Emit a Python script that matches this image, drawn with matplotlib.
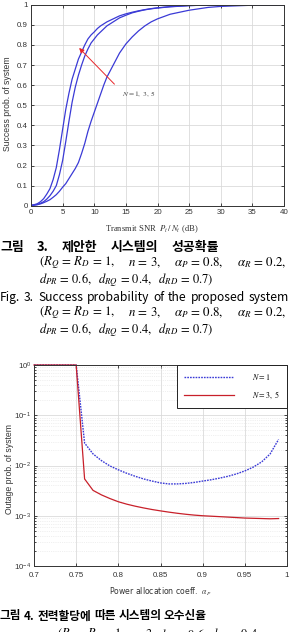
import matplotlib
matplotlib.use("Agg")
import matplotlib.pyplot as plt
from matplotlib.ticker import LogLocator, NullFormatter
import numpy as np

plt.rcParams['mathtext.fontset'] = 'stix'

# Fig. 3 data: success probability vs transmit SNR (dB)
snr = [0, 0.5, 1, 1.5, 2, 2.5, 3, 3.5, 4, 4.5, 5, 5.5, 6, 6.5, 7, 7.5, 8, 8.5,
       9, 9.5, 10, 10.5, 11, 11.5, 12, 13, 14, 15, 16, 17, 18, 19, 20,
       22, 25, 28, 30, 35, 40]
succ_a = [0.002, 0.005, 0.01, 0.02, 0.035, 0.058, 0.085, 0.13, 0.19, 0.28,
          0.38, 0.48, 0.56, 0.63, 0.68, 0.73, 0.765, 0.8, 0.83, 0.85, 0.865,
          0.882, 0.895, 0.905, 0.915, 0.93, 0.945, 0.955, 0.963, 0.97, 0.976,
          0.981, 0.985, 0.991, 0.996, 0.999, 1.0, 1.0, 1.0]
succ_b = [0.001, 0.003, 0.006, 0.012, 0.02, 0.033, 0.05, 0.072, 0.1, 0.155,
          0.225, 0.32, 0.42, 0.515, 0.59, 0.65, 0.7, 0.745, 0.78, 0.81, 0.83,
          0.85, 0.865, 0.88, 0.895, 0.915, 0.935, 0.948, 0.96, 0.968, 0.975,
          0.98, 0.984, 0.99, 0.996, 0.999, 1.0, 1.0, 1.0]
succ_c = [0.001, 0.003, 0.005, 0.009, 0.015, 0.022, 0.03, 0.042, 0.055, 0.072,
          0.092, 0.11, 0.135, 0.16, 0.185, 0.215, 0.26, 0.31, 0.37, 0.42,
          0.465, 0.51, 0.555, 0.6, 0.64, 0.7, 0.76, 0.805, 0.84, 0.87, 0.895,
          0.915, 0.93, 0.953, 0.973, 0.987, 0.992, 0.998, 1.0]

# Fig. 4 data: outage probability vs power allocation coefficient
alpha = [0.70, 0.71, 0.72, 0.73, 0.74, 0.75, 0.76, 0.77, 0.78, 0.79, 0.80,
         0.81, 0.82, 0.83, 0.84, 0.85, 0.86, 0.87, 0.88, 0.89, 0.90, 0.91,
         0.92, 0.93, 0.94, 0.95, 0.96, 0.97, 0.98, 0.99]
out_n1 = [1, 1, 1, 1, 1, 1, 0.028, 0.017, 0.0125, 0.0098, 0.0082, 0.007,
          0.0061, 0.0054, 0.0049, 0.0045, 0.0043, 0.0043, 0.0044, 0.0046,
          0.0049, 0.0052, 0.0056, 0.0061, 0.0068, 0.0078, 0.0093, 0.0118,
          0.017, 0.033]
out_n35 = [1, 1, 1, 1, 1, 1, 0.0054, 0.0032, 0.0026, 0.0022, 0.0019, 0.0017,
           0.00155, 0.00143, 0.00133, 0.00125, 0.00118, 0.00112, 0.00107,
           0.00103, 0.001, 0.00098, 0.00096, 0.00094, 0.00092, 0.0009,
           0.00089, 0.00088, 0.00087, 0.00088]

W, H = 290, 632


def box(x0, y0, x1, y1):
    return [x0 / W, 1 - y1 / H, (x1 - x0) / W, (y1 - y0) / H]


def ftext(x, y, s, **kw):
    return fig.text(x / W, 1 - y / H, s, **kw)


def spread(x0, x1, y, words, **kw):
    # justified caption line: words placed left to right, gaps shared out
    r = fig.canvas.get_renderer()
    texts = [ftext(0, y, w, va='center', **kw) for w in words]
    widths = [t.get_window_extent(r).width for t in texts]
    gap = (x1 - x0 - sum(widths)) / (len(words) - 1)
    x = x0
    for t, w in zip(texts, widths):
        t.set_x(x / W)
        x += w + gap


fig = plt.figure(figsize=(W / 100, H / 100), dpi=100)
tick_font = dict(family='Liberation Sans', size=5.7, color='#333333')
grid_col = '#dadada'

# ---- top chart
ax1 = fig.add_axes(box(31, 4.8, 284, 205.7))
for y in (succ_a, succ_b, succ_c):
    ax1.plot(snr, y, color='#3a3ad6', lw=0.9)
ax1.set_xlim(0, 40)
ax1.set_ylim(0, 1)
ax1.set_xticks(np.arange(0, 41, 5))
ax1.set_yticks(np.arange(0, 1.01, 0.1))
ax1.set_yticklabels(['0', '0.1', '0.2', '0.3', '0.4', '0.5', '0.6', '0.7',
                     '0.8', '0.9', '1'])
ax1.grid(True, color=grid_col, lw=0.6)
ax1.tick_params(direction='in', length=2, width=0.5, pad=2.5, top=True, right=True)
for lb in ax1.get_xticklabels() + ax1.get_yticklabels():
    lb.set(**tick_font)
for sp in ax1.spines.values():
    sp.set_linewidth(0.7)
    sp.set_color('#333333')
ax1.annotate('', xy=(7.3, 0.795), xytext=(13.5, 0.595),
             arrowprops=dict(arrowstyle='-|>', color='#e8262a', lw=0.7,
                             mutation_scale=7))
ax1.text(14.4, 0.556, r'$N=1,\ 3,\ 5$', fontsize=5.3, color='#444444',
         va='center')
ftext(152, 229, r'Transmit SNR  $P_t\,/\,N_t$ (dB)', family='Liberation Serif',
      size=6.2, ha='center', va='center', color='#333333')
ftext(8, 104, 'Success prob. of system', family='Liberation Sans', size=6.2,
      rotation=90, ha='center', va='center', color='#333333')

# ---- captions for Fig. 3
kr = ['Noto Sans CJK KR', 'DejaVu Sans']
seg1 = [r'$(R_Q\,=\,R_D\,=\,1,$', r'$n\,=\,3,$', r'$\alpha_P\,=\,0.8,$',
        r'$\alpha_R\,=\,0.2,$']
ln2 = r'$d_{PR}\,=\,0.6,\ \ d_{RQ}\,=\,0.4,\ \ d_{RD}\,=\,0.7)$'

spread(0, 219, 247, '그림 3. 제안한 시스템의 성공확률'.split(), family=kr,
       size=9.3, weight='bold')
spread(39, 286, 263, seg1, size=9.3)
ftext(39, 280, ln2, size=9.0, va='center')
spread(0, 289, 297, 'Fig. 3. Success probability of the proposed system'.split(),
       family=kr, size=8.7, weight='medium')
spread(39, 286, 313, seg1, size=9.3)
ftext(39, 330, ln2, size=9.0, va='center')

# ---- bottom chart
ax2 = fig.add_axes(box(34, 365, 287, 566))
ax2.semilogy(alpha, out_n1, color='#3a3ad6', lw=1.0, ls=(0, (1.2, 0.8)),
             label=r'$N=1$', clip_on=False)
ax2.semilogy(alpha, out_n35, color='#c8202a', lw=0.9, label=r'$N=3,\ 5$',
             clip_on=False)
ax2.set_xlim(0.7, 1.0)
ax2.set_ylim(1e-4, 1)
ax2.set_xticks([0.7, 0.75, 0.8, 0.85, 0.9, 0.95, 1.0])
ax2.set_xticklabels(['0.7', '0.75', '0.8', '0.85', '0.9', '0.95', '1'])
ax2.yaxis.set_major_locator(LogLocator(base=10, numticks=10))
ax2.yaxis.set_minor_locator(LogLocator(base=10, subs=np.arange(2, 10), numticks=10))
ax2.yaxis.set_minor_formatter(NullFormatter())
ax2.grid(True, which='major', color=grid_col, lw=0.6)
ax2.grid(True, which='minor', axis='y', color='#e2e2e2', lw=0.5, ls=':')
ax2.tick_params(which='both', direction='in', width=0.5, top=True, right=True)
ax2.tick_params(which='major', length=2)
ax2.tick_params(which='minor', length=1.2)
ax2.tick_params(axis='x', pad=4)
ax2.tick_params(axis='y', pad=2)
for lb in ax2.get_xticklabels() + ax2.get_yticklabels():
    lb.set(**tick_font)
for sp in ax2.spines.values():
    sp.set_linewidth(0.7)
    sp.set_color('#333333')
leg = ax2.legend(loc='upper right', fontsize=5.8, frameon=True, fancybox=False,
                 edgecolor='#222222', framealpha=1, borderaxespad=0,
                 handlelength=6.2, handletextpad=2.2, borderpad=0.9,
                 labelspacing=0.9)
leg.get_frame().set_linewidth(0.7)
ftext(160, 592, r'Power allocation coeff.  $\alpha_P$', family='DejaVu Sans',
      size=5.6, ha='center', va='center', color='#333333')
ftext(10, 469, 'Outage prob. of system', family='Liberation Sans', size=6.2,
      rotation=90, ha='center', va='center', color='#333333')

spread(0, 207, 616, '그림 4. 전력할당에 따른 시스템의 오수신율'.split(), family=kr,
       size=8.4, weight='bold')
spread(57, 258, 635, [r'$(R_Q=R_D=1,$', r'$n=3,$', r'$d_{PR}=0.6,$',
                      r'$d_{RQ}=0.4$'], size=9.0)

fig.savefig('out.png', dpi=100)
